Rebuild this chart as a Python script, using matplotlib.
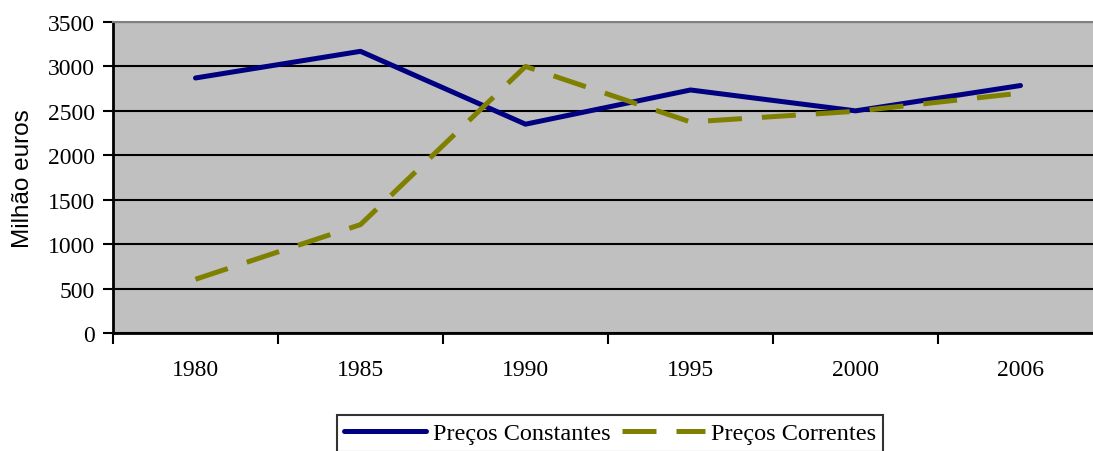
import matplotlib
matplotlib.use("Agg")
import matplotlib.pyplot as plt
import numpy as np

anos = ["1980", "1985", "1990", "1995", "2000", "2006"]
constantes = [2870, 3170, 2350, 2735, 2500, 2785]
correntes = [605, 1220, 3000, 2375, 2495, 2700]

plt.rcParams["font.family"] = ["Liberation Serif", "DejaVu Serif"]

fig = plt.figure(figsize=(10.93, 4.52), dpi=100)
ax = fig.add_axes([113 / 1093, 118 / 452, 990 / 1093, 311 / 452])
ax.set_facecolor("#C0C0C0")

x = np.arange(len(anos))
ax.plot(x, constantes, color="#000080", lw=3.6, solid_capstyle="round",
        label="Preços Constantes")
ax.plot(x, correntes, color="#808000", lw=3.6, dashes=(6.8, 4),
        dash_capstyle="butt", label="Preços Correntes")

ax.set_xlim(-0.5, len(anos) - 0.5)
ax.set_ylim(0, 3500)
ax.set_yticks(np.arange(0, 3501, 500))
ax.yaxis.grid(True, color="black", lw=1.5)
ax.set_axisbelow(True)

# category ticks on boundaries, labels centred
ax.set_xticks(np.arange(-0.5, len(anos), 1.0))
ax.set_xticklabels([])
ax.set_xticks(x, minor=True)
ax.set_xticklabels(anos, minor=True)
ax.tick_params(axis="x", which="major", length=8, width=1.5, direction="out")
ax.tick_params(axis="x", which="minor", length=0, pad=19, labelsize=17)
ax.tick_params(axis="y", length=7, width=1.5, direction="out", labelsize=17, pad=6)

for s in ["left", "bottom"]:
    ax.spines[s].set_linewidth(2)
    ax.spines[s].set_color("black")
ax.spines["top"].set_color("#808080")
ax.spines["top"].set_linewidth(1.5)
ax.spines["right"].set_visible(False)

ax.set_ylabel("Milhão euros", family=["Liberation Sans", "DejaVu Sans"],
              fontsize=17.5, labelpad=10)

leg = fig.legend(loc="upper center", bbox_to_anchor=(610 / 1093, 36 / 452),
                 ncol=2, frameon=True, fancybox=False, fontsize=17.5,
                 handlelength=3.4, handletextpad=0.25, columnspacing=0.5,
                 borderpad=0.3, borderaxespad=0)
leg.get_frame().set_edgecolor("black")
leg.get_frame().set_linewidth(1.5)

fig.savefig("out.png", dpi=100)
